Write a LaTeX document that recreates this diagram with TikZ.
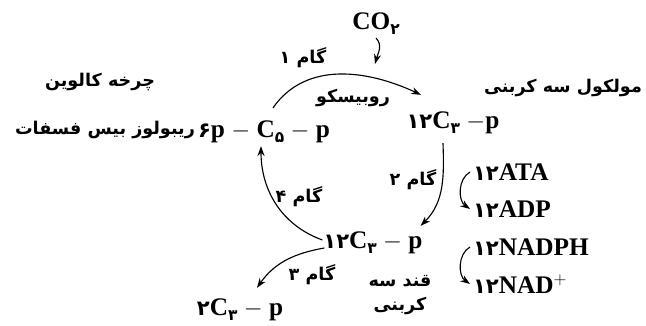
\documentclass[tikz,border=0pt]{standalone}
\usepackage{fontspec}
\setmainfont{Liberation Serif}
\newfontfamily\fa[Script=Arabic]{DejaVu Sans}
\TeXXeTstate=1
\usetikzlibrary{arrows.meta,calc}

\newcommand{\latf}{\fontsize{18}{20}\selectfont\bfseries}
\newcommand{\perf}{\fontsize{12.5}{17}\selectfont\fa\bfseries}
\newcommand{\dg}[1]{{\fontsize{15}{17}\selectfont\fa #1}}
\newcommand{\sbd}[1]{\raisebox{-0.45ex}{\fontsize{11}{12}\selectfont\fa #1}}

\tikzset{
  lat/.style={font=\latf, inner sep=2pt},
  per/.style={font=\perf, inner sep=2pt, align=center},
  flow/.style={-{Stealth[length=7pt,width=5pt]}, line width=0.8pt},
}

\begin{document}
\begin{tikzpicture}[x=0.025cm, y=0.025cm]
  \useasboundingbox (0,0) rectangle (646,326);

  % labels
  \node[per] (calvin) at (100,244) {\beginR چرخه کالوین\endR};
  \node[per, anchor=east] (rubpname) at (198,196) {\beginR ریبولوز بیس فسفات\endR};
  \node[per, anchor=east] (molname) at (645,238) {\beginR مولکول سه کربنی\endR};
  \node[per] (rubisco) at (353,228) {\beginR روبیسکو\endR};
  \node[per] (gam1) at (303,268) {\beginR گام ۱\endR};
  \node[per] (gam2) at (413,146) {\beginR گام ۲\endR};
  \node[per] (gam3) at (312,51) {\beginR گام ۳\endR};
  \node[per] (gam4) at (299,129) {\beginR گام ۴\endR};
  \node[per] (sugar) at (400,31) {\beginR قند سه\endR\\\beginR کربنی\endR};

  % molecules
  \node[lat] (co2) at (376,302) {CO\sbd{۲}};
  \node[lat] (rubp) at (264,194) {\dg{۶}p $-$ C\sbd{۵} $-$ p};
  \node[lat] (pga1) at (453,203) {\dg{۱۲}C\sbd{۳} $-$p};
  \node[lat] (pga2) at (373,83) {\dg{۱۲}C\sbd{۳} $-$ p};
  \node[lat] (g3p) at (240,16) {\dg{۲}C\sbd{۳} $-$ p};
  \node[lat, anchor=west] (ata) at (470,154) {\dg{۱۲}ATA};
  \node[lat, anchor=west] (adp) at (470,117) {\dg{۱۲}ADP};
  \node[lat, anchor=west] (nadph) at (470,79) {\dg{۱۲}NADPH};
  \node[lat, anchor=west] (nad) at (470,42) {\dg{۱۲}NAD$^{+}$};

  \coordinate (hit) at (375,262);

  % cycle
  \draw[flow] (co2.south) to[out=-45, in=75] (hit);
  \draw[flow] ($(rubp.north)+(9,10)$) to[out=55, in=155] ($(pga1.north)+(-32,14)$);
  \draw[flow] ($(pga1.south)+(-10,-6)$) to[out=-88, in=45] ($(pga2.north east)+(-5,3)$);
  \draw[flow] ($(pga2.west)+(2,3)$) to[out=160, in=-90] ($(rubp.south)+(-3,0)$);
  \draw[flow] ($(pga2.west)+(4,-5)$) to[out=190, in=55] ($(g3p.north)+(17,8)$);
  \draw[flow] (ata.west) to[out=210, in=145] (adp.west);
  \draw[flow] (nadph.west) to[out=210, in=145] (nad.west);
\end{tikzpicture}
\end{document}
